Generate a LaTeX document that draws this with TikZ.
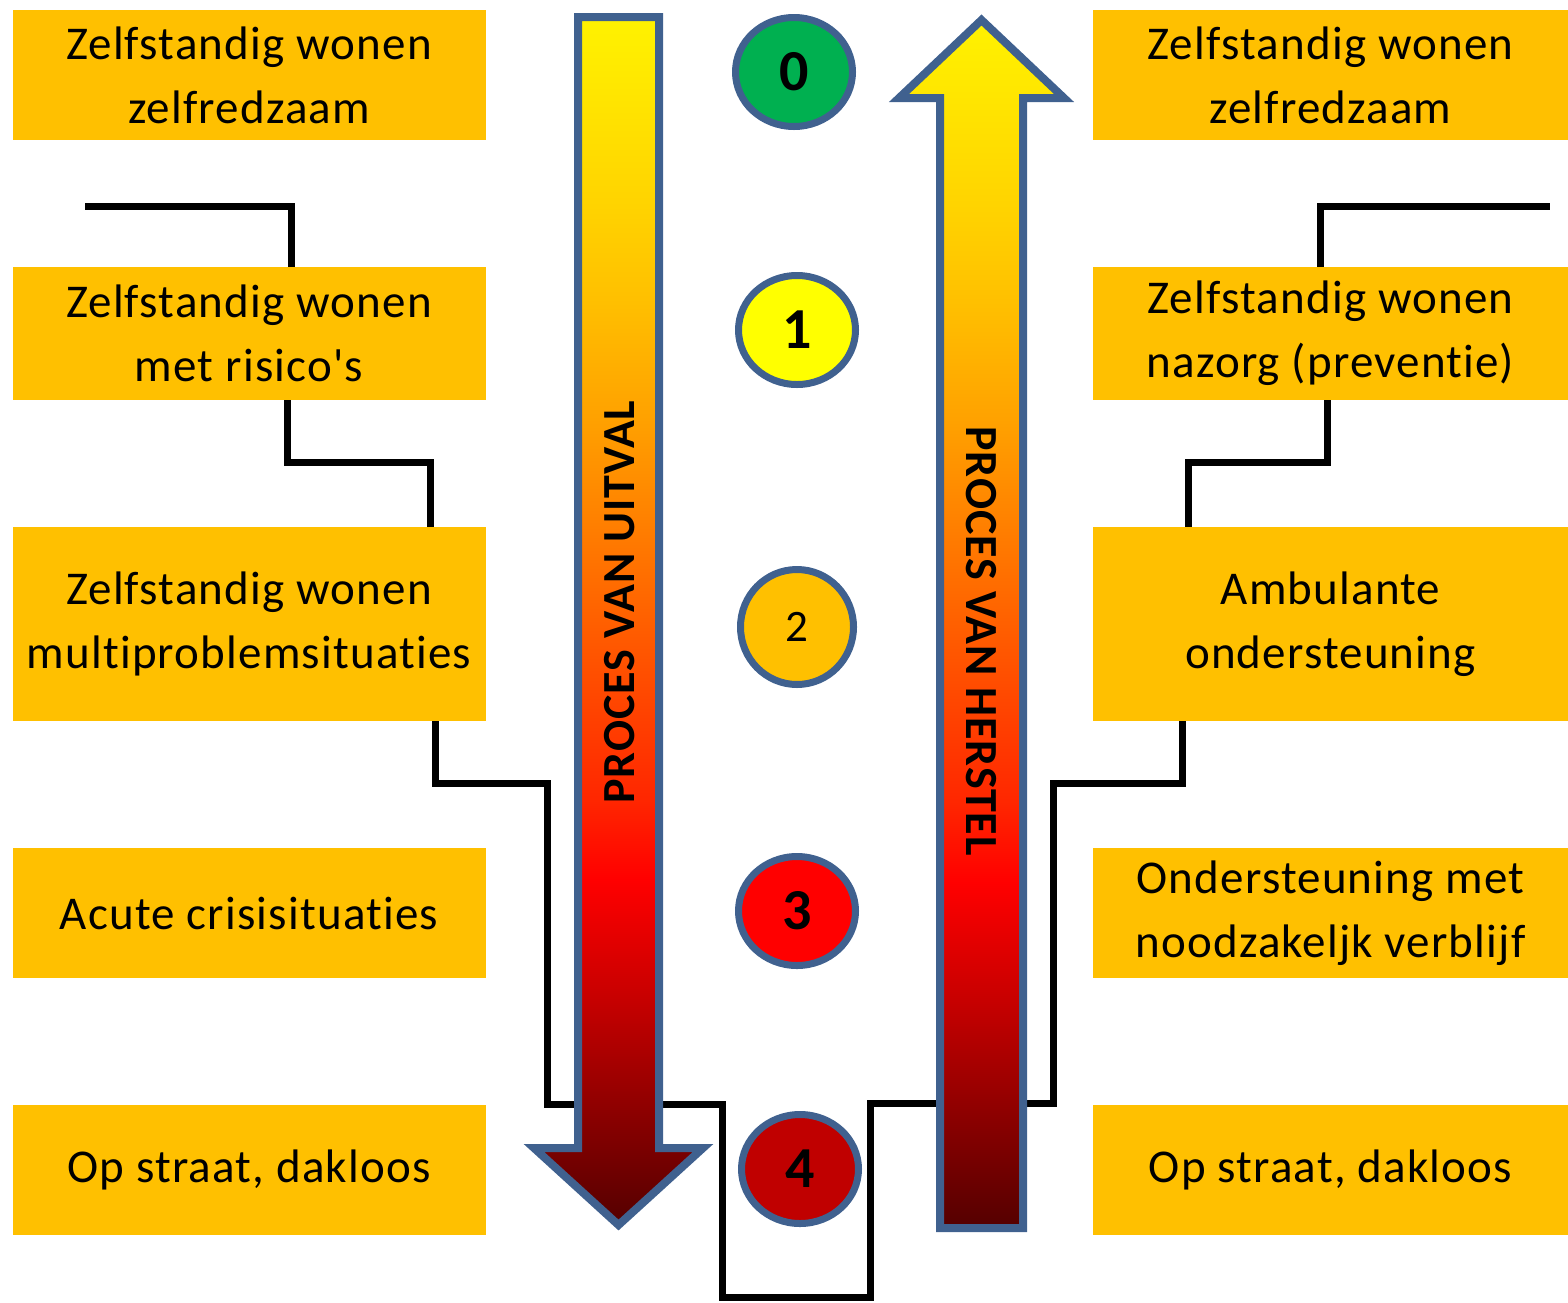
\documentclass[tikz,border=0pt]{standalone}
\usepackage{fontspec}
\setmainfont{Carlito}[Ligatures={TeXOff,CommonOff}]
\usetikzlibrary{shapes.geometric}
\definecolor{boxc}{HTML}{FFC000}
\definecolor{bordc}{HTML}{40618F}
\definecolor{cgreen}{HTML}{00B050}
\definecolor{cyellow}{HTML}{FFFF00}
\definecolor{corange}{HTML}{FFC000}
\definecolor{cred}{HTML}{FF0000}
\definecolor{cdred}{HTML}{C00000}
\pgfdeclareverticalshading{procshade}{100bp}{rgb(0bp)=(0.33,0,0); rgb(25bp)=(0.33,0,0); rgb(30.3bp)=(0.58,0,0); rgb(34.4bp)=(0.78,0,0); rgb(39.3bp)=(1,0,0); rgb(42.6bp)=(1,0.15,0); rgb(49.2bp)=(1,0.35,0); rgb(58.3bp)=(1,0.63,0); rgb(63.2bp)=(1,0.75,0); rgb(67.3bp)=(1,0.83,0); rgb(75bp)=(1,0.95,0); rgb(100bp)=(1,0.95,0)}
\begin{document}
\begin{tikzpicture}[x=1pt, y=-1pt,
  box/.style={fill=boxc, minimum width=473pt, inner sep=0pt, align=center, text=black,
    font=\fontsize{47}{64}\selectfont\addfontfeatures{LetterSpace=2.5}},
  rbox/.style={box, minimum width=475pt},
  numc/.style={ellipse, draw=bordc, line width=7pt, minimum width=117pt, minimum height=109pt,
    inner sep=0pt, font=\fontsize{58}{58}\selectfont\bfseries},
  conn/.style={draw=black, line width=7pt},
  procarrow/.style={shading=procshade, draw=bordc, line width=8pt, line join=miter},
  arrtxt/.style={font=\fontsize{46}{46}\selectfont\bfseries\addfontfeatures{LetterSpace=2}, text=black, inner sep=0pt}]
\useasboundingbox (0,0) rectangle (1568,1302);
% left boxes
\node[box, minimum height=130pt] (L0) at (249,75) {Zelfstandig wonen\\zelfredzaam};
\node[box, minimum height=133pt] (L1) at (249,333.5) {Zelfstandig wonen\\met risico's};
\node[box, minimum height=194pt] (L2) at (249,624) {Zelfstandig wonen\\multiproblemsituaties};
\node[box, minimum height=130pt] (L3) at (249,913) {Acute crisisituaties};
\node[box, minimum height=130pt] (L4) at (249,1170) {Op straat, dakloos};
% right boxes
\node[rbox, minimum height=130pt] (R0) at (1330.5,75) {Zelfstandig wonen\\zelfredzaam};
\node[rbox, minimum height=133pt] (R1) at (1330.5,333.5) {Zelfstandig wonen\\nazorg (preventie)};
\node[rbox, minimum height=194pt] (R2) at (1330.5,624) {Ambulante\\ondersteuning};
\node[rbox, minimum height=130pt] (R3) at (1330.5,913) {Ondersteuning met\\noodzakeljk verblijf};
\node[rbox, minimum height=130pt] (R4) at (1330.5,1170) {Op straat, dakloos};
% connectors
\coordinate (lstart) at (85,206);
\coordinate (rstart) at (1550,206);
\draw[conn] (lstart) -| (L1.north -| 291,0);
\draw[conn] (L1.south -| 287,0) |- (430,462) -- (L2.north -| 430,0);
\draw[conn] (L2.south -| 435,0) |- (547,783) |- (722,1104) |- (870,1297) |- (1053,1103) |- (1182,783) -- (R2.south -| 1182,0);
\draw[conn] (R2.north -| 1188,0) |- (1327,462) -- (R1.south -| 1327,0);
\draw[conn] (R1.north -| 1320,0) |- (rstart);
% arrows
\shadedraw[procarrow] (578,17) -- (659,17) -- (659,1148) -- (703,1148) -- (618.5,1225) -- (534,1148) -- (578,1148) -- cycle;
\shadedraw[procarrow] (940,1228) -- (940,98) -- (899,98) -- (981.5,20) -- (1064,98) -- (1023,98) -- (1023,1228) -- cycle;
\node[arrtxt, rotate=90] (TU) at (620,602) {PROCES VAN UITVAL};
\node[arrtxt, rotate=-90] (TH) at (981,641) {PROCES VAN HERSTEL};
% circles
\node[numc, fill=cgreen] (C0) at (794,72) {0};
\node[numc, fill=cyellow] (C1) at (797,330) {1};
\node[numc, fill=corange, minimum width=113pt, minimum height=115pt, font=\fontsize{45}{45}\selectfont] (C2) at (797,627) {2};
\node[numc, fill=cred] (C3) at (797,911) {3};
\node[numc, fill=cdred] (C4) at (800,1169) {4};
\end{tikzpicture}
\end{document}
